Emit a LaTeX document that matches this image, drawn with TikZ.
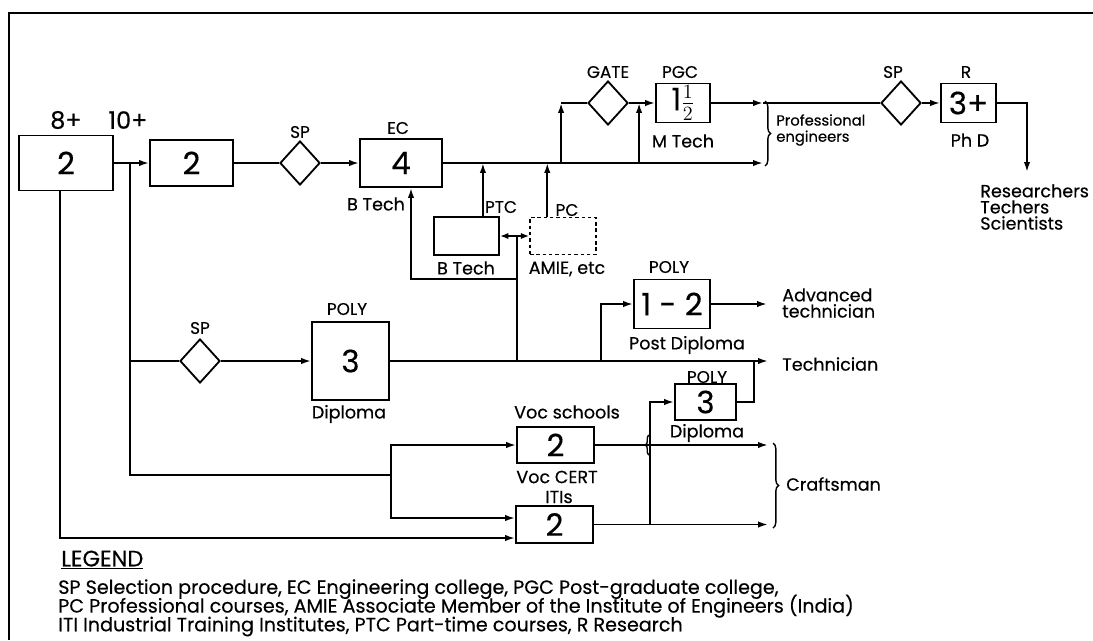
\documentclass[tikz,border=0pt]{standalone}
\usepackage{fontspec}
\setmainfont{Poppins}[FakeBold=0.35]
\usetikzlibrary{arrows.meta, positioning, calc, shapes.geometric, decorations.pathreplacing}

\tikzset{
  box/.style={draw, line width=1.3pt, inner sep=0pt, font=\fontsize{22}{22}\selectfont},
  dec/.style={draw, diamond, line width=1.3pt, minimum width=1cm, minimum height=1.1cm, inner sep=0pt},
  lbl/.style={font=\fontsize{12}{12}\selectfont, inner sep=0pt},
  txt/.style={font=\fontsize{12.5}{11.5}\selectfont, inner sep=0pt, align=left},
  link/.style={line width=1.3pt},
  arr/.style={-{Latex[length=7pt,width=4.5pt]}},
  arr2/.style={{Latex[length=6pt,width=4.5pt]}-{Latex[length=6pt,width=4.5pt]}},
  brc/.style={decorate, decoration={brace, amplitude=4pt}, line width=1pt},
}

\begin{document}
\begin{tikzpicture}[x=0.025cm, y=-0.025cm]
\useasboundingbox (0,0) rectangle (1093,640);
% frame
\draw[line width=0.9pt] (1093,13) -- (9,13) -- (9,640);

% ---- top row ----
\node[box, minimum width=2.35cm, minimum height=1.375cm] (sch) at (66,163) {2};
\node[box, minimum width=2.075cm, minimum height=1.15cm] (hsc) at (191.5,163) {2};
\node[dec] (sp1) at (300,163) {};
\node[box, minimum width=2.05cm, minimum height=1.2cm] (ec) at (401,163) {4};
\node[dec] (gate) at (608,103) {};
\node[box, minimum width=1.35cm, minimum height=0.975cm] (pgc) at (683,103)
  {1$\frac{1}{2}$\hspace{0.45cm}};
\node[dec] (sp2) at (901,103) {};
\node[box, minimum width=1.375cm, minimum height=0.975cm] (res) at (968.5,103) {3+};
% part-time / professional courses
\node[box, minimum width=1.625cm, minimum height=0.95cm] (ptc) at (466.5,236) {};
\node[box, line width=1pt, dash pattern=on 2.5pt off 2pt,
  minimum width=1.65cm, minimum height=0.925cm] (pc) at (563,236) {};

% ---- polytechnic rows ----
\node[dec] (sp3) at (200,361) {};
\node[box, minimum width=1.925cm, minimum height=1.95cm] (dip) at (350.5,361) {3};
\node[box, minimum width=1.9cm, minimum height=1.225cm] (pd) at (672,304) {1 - 2};
\node[box, minimum width=1.525cm, minimum height=0.9cm] (pl3) at (705.5,402) {3};
\node[box, minimum width=1.925cm, minimum height=0.9cm] (voc) at (555.5,445) {2};
\node[box, minimum width=1.925cm, minimum height=0.925cm] (iti) at (554.5,524.5) {2};

% ---- labels ----
\node[font=\fontsize{17}{17}\selectfont] (l8) at (66,120) {8+};
\node[font=\fontsize{17}{17}\selectfont] (l10) at (128,120) {10+};
\node[lbl] (lsp1) at (300,132) {SP};
\node[lbl] (lec) at (398,128) {EC};
\node[txt] (lbt1) at (376,204) {B Tech};
\node[lbl] (lptc) at (501,207) {PTC};
\node[lbl] (lpc) at (567,210) {PC};
\node[txt] (lbt2) at (466,268) {B Tech};
\node[txt] (lamie) at (567,269) {AMIE, etc};
\node[lbl] (lgate) at (608,72) {GATE};
\node[lbl] (lpgc) at (680,72) {PGC};
\node[txt] (lmt) at (683,141) {M Tech};
\node[txt, font=\fontsize{10.5}{11.5}\selectfont, anchor=west] (lpe) at (776,130) {Professional\\engineers};
\node[lbl] (lsp2) at (893,72) {SP};
\node[lbl] (lr) at (966,72) {R};
\node[txt] (lphd) at (970,140) {Ph D};
\node[txt, anchor=west] (lrts) at (980,207) {Researchers\\Techers\\Scientists};
\node[lbl] (lsp3) at (200,328) {SP};
\node[lbl] (lpoly1) at (347,309) {POLY};
\node[txt] (ldip1) at (349,414) {Diploma};
\node[lbl] (lpoly2) at (669,267) {POLY};
\node[txt] (lpd) at (687,345) {Post Diploma};
\node[txt, anchor=west] (ladv) at (782,303) {Advanced\\technician};
\node[txt, anchor=west] (ltech) at (782,364) {Technician};
\node[lbl] (lpoly3) at (707,377) {POLY};
\node[txt] (ldip2) at (707,433) {Diploma};
\node[txt] (lvoc) at (567,412) {Voc schools};
\node[txt] (lcert) at (557,477) {Voc CERT};
\node[txt] (liti) at (559,497) {ITIs};
\node[txt, anchor=west] (lcraft) at (786,484) {Craftsman};

% ---- connectors, top ----
\draw[link, arr] (sch.east) -- (hsc.west);
\coordinate (tk) at ($(sch.east)!0.46!(hsc.west)$);
\coordinate (vk) at (391,475);
\draw[link] (tk) |- (vk);
\draw[link] (tk |- sp3.west) -- (sp3.west);
\draw[link] (hsc.east) -- (sp1.west);
\draw[link, arr] (sp1.east) -- (ec.west);
\coordinate (pelo) at (763,163);
\draw[link, arr] (ec.east) -- (pelo);
\coordinate (ptcin) at ([xshift=-0.425cm]ptc.north east);
\draw[link, arr] (ptcin) -- (ptcin |- ec.east);
\coordinate (pcin) at ([xshift=0.45cm]pc.north west);
\draw[link, arr] (pcin) -- (pcin |- ec.east);
\coordinate (gk) at ([xshift=-0.65cm]gate.west);
\draw[link, arr] (gk |- ec.east) -- (gk);
\draw[link] (gk) -- (gate.west);
\draw[link, arr] (gate.east) -- (pgc.west);
\coordinate (mk) at ([xshift=-0.4cm]pgc.west);
\draw[link, arr] (mk |- ec.east) -- (mk);
\coordinate (pehi) at (763,103);
\draw[link, arr] (pgc.east) -- (pehi);
\draw[link] (pehi) -- (sp2.west);
\draw[brc] (765,101) -- (765,166);
\draw[link, arr] (sp2.east) -- (res.west);
\coordinate (rk) at (1027,172);
\draw[link, arr] (res.east) -| (rk);

% B Tech / AMIE links
\draw[link, arr2] (ptc.east) -- (pc.west);
\coordinate (pk) at ($(ptc.east)!0.58!(pc.west)$);
\draw[link] (pk) -- (pk |- dip.east);
\coordinate (bk) at ([yshift=-1.075cm]pk);
\coordinate (ek) at ([xshift=0.25cm]ec.south);
\draw[link, arr] (bk) -| (ek);

% ---- connectors, polytechnic ----
\draw[link, arr] (sp3.east) -- (dip.west);
\coordinate (tech) at (768,361);
\draw[link, arr] (dip.east) -- (tech);
\coordinate (dk) at ([xshift=-0.8cm]pd.west);
\draw[link, arr] (dk |- dip.east) |- (pd.west);
\coordinate (adv) at (767,304);
\draw[link, arr] (pd.east) -- (adv);
\coordinate (p3r) at ([xshift=0.425cm]pl3.east);
\draw[link] (pl3.east) -- (p3r) -- (p3r |- tech);

% ---- connectors, vocational ----
\draw[link, arr] (vk) |- (voc.west);
\coordinate (itihi) at ([yshift=0.1625cm]iti.west);
\draw[link, arr] (vk) |- (itihi);
\coordinate (ak) at ([xshift=-0.15cm]sch.south);
\coordinate (itilo) at ([yshift=-0.3375cm]iti.west);
\draw[link, arr] (ak) |- (itilo);
\draw[link, arr] (voc.east) -- (voc.east -| tech);
\draw[link, arr] (iti.east) -- (iti.east -| tech);
\coordinate (ck) at ([xshift=-0.6cm]pl3.west);
\draw[link, arr] (ck |- iti.east) |- (pl3.west);
\draw[decorate, decoration={brace, amplitude=2.5pt}, line width=1pt] (649,455) -- (649,435);
\draw[brc] (773,443) -- (773,528);

% ---- legend ----
\node[font=\fontsize{16}{16}\selectfont, anchor=west, inner sep=0pt] (leg) at (61,560) {\underline{LEGEND}};
\node[font={\fontsize{13.6}{13.3}\selectfont\lineskiplimit=-20pt}, anchor=north west, align=left, inner sep=0pt] (legtxt) at (58,579)
  {SP Selection procedure, EC Engineering college, PGC Post-graduate college,\\
   PC Professional courses, AMIE Associate Member of the Institute of Engineers (India)\\
   ITI Industrial Training Institutes, PTC Part-time courses, R Research};
\end{tikzpicture}
\end{document}
